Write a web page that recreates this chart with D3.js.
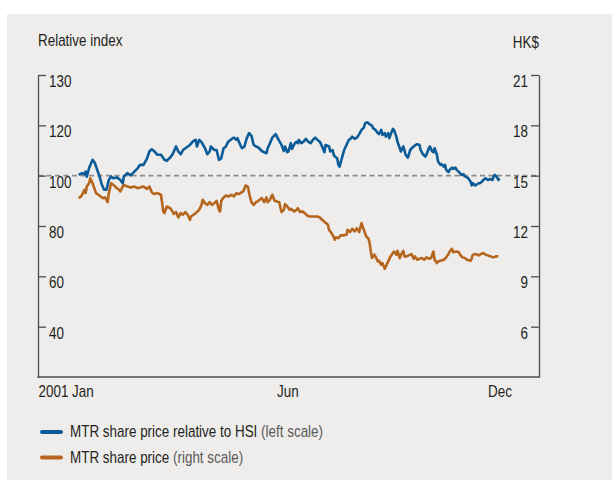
<!DOCTYPE html>
<html lang="en">
<head>
    <meta charset="UTF-8">
    <title>MTR share price</title>
    <script src="https://d3js.org/d3.v7.min.js"></script>
    <style>
        body {
            margin: 0;
            background: #fff;
        }

        svg text {
            font-family: "Liberation Sans", Arial, sans-serif;
            font-size: 16px;
            fill: #231f20;
        }

        .axis path, .axis line {
            stroke: #4d4d4d;
            stroke-width: 1.3;
        }
    </style>
</head>
<body>
    <svg width="612" height="480" id="svg"></svg>

    <script>
        // days counted from 1 Jan 2001
        const relDay = [1, 4, 6, 7, 8, 10, 13, 15, 17, 19, 21, 23, 25, 27, 29, 31, 34, 37, 39, 40, 43, 46, 49, 52, 54, 57, 60, 62, 64, 66,
            69, 72, 75, 77, 80, 82, 85, 87, 89, 91, 94, 97, 100, 102, 103, 105, 107, 110, 112, 114, 115, 118, 120, 122, 124, 126, 128, 130, 133, 135, 137, 138, 141,
            142, 144, 146, 148, 150, 152, 154, 156, 159, 161, 163, 164, 166, 168, 171, 172, 174, 176, 178, 179, 181, 182, 184, 185, 187, 189, 190, 191, 193, 195, 197, 199, 201, 203, 205, 207, 209, 211, 213,
            214, 217, 218, 220, 221, 222, 224, 225, 226, 228, 230, 232, 234, 236, 237, 239, 241, 243, 245, 247, 248, 250, 252, 254, 255, 257, 259, 260, 262, 263, 265, 266, 268, 269, 270, 272, 273, 275, 276, 278, 279, 281, 282, 283, 285,
            287, 289, 291, 293, 295, 296, 298, 300, 301, 303, 304, 306, 307, 308, 310, 311, 313, 314, 316, 317, 318, 320, 321, 323, 324, 326, 327, 328, 330, 331, 333, 334, 336, 337, 339, 340, 341, 343, 344, 346, 347, 349, 350, 352, 354, 356, 358, 359, 360, 362, 363, 364];
        const relIndex = [100.3, 101.0, 100.6, 101.6, 99.6, 103.0, 106.3, 105.0, 102.3, 99.7, 96.4, 94.4, 94.4, 98.3, 99.7, 99.0, 99.3, 98.3, 97.0, 99.7, 101.0, 100.1, 101.6, 103.0, 104.3, 104.3, 106.9, 109.6, 110.5, 109.8,
            108.3, 108.3, 106.3, 105.9, 107.2, 108.5, 111.6, 109.6, 108.5, 110.2, 111.2, 112.2, 113.8, 114.2, 111.6, 114.2, 113.3, 110.9, 108.5, 109.6, 111.6, 110.2, 110.2, 106.3, 106.9, 110.9, 111.6, 113.5, 114.6, 115.1, 114.2, 114.9, 111.6,
            110.9, 111.6, 114.9, 116.9, 115.9, 112.2, 111.6, 111.2, 109.8, 109.3, 108.9, 110.9, 112.9, 115.1, 116.5, 115.5, 113.8, 112.2, 109.8, 111.6, 109.3, 109.6, 112.9, 110.6, 112.5, 113.5, 112.9, 114.2, 112.9, 113.5, 114.6, 113.5, 112.9, 114.2, 115.1, 114.2, 113.5, 111.6, 109.3,
            112.2, 111.6, 109.6, 110.2, 108.3, 107.6, 106.9, 104.3, 103.6, 106.9, 110.2, 112.2, 114.2, 114.9, 115.5, 114.6, 115.1, 116.5, 118.2, 119.1, 120.8, 121.2, 120.4, 119.9, 118.8, 118.2, 116.9, 116.5, 118.2, 116.2, 116.9, 115.5, 116.9, 114.9, 116.2, 118.6, 118.2, 115.5, 113.5, 110.9, 109.6, 111.6, 110.2, 108.3, 107.2,
            110.2, 111.2, 112.0, 112.5, 112.2, 110.2, 108.5, 107.6, 108.3, 110.9, 111.6, 109.6, 109.3, 110.9, 108.3, 105.6, 104.3, 104.6, 103.6, 104.3, 102.3, 101.4, 102.3, 103.2, 102.7, 103.2, 102.3, 101.9, 101.0, 100.3, 100.6, 99.7, 99.3, 99.0, 97.7, 96.1, 97.0, 96.1, 96.4, 97.0, 97.0, 97.7, 98.3, 99.0, 98.3, 98.7, 98.3, 99.7, 100.3, 99.3, 98.3, 99.0];

        const priceDay = [1, 3, 4, 6, 7, 8, 10, 11, 13, 14, 16, 18, 20, 22, 24, 26, 27, 29, 31, 34, 36, 37, 39, 40, 43, 46, 49, 52, 54, 57, 60, 62, 64, 66, 69,
            72, 74, 75, 77, 80, 82, 83, 85, 87, 89, 91, 93, 95, 97, 98, 100, 102, 105, 107, 108, 110, 112, 114, 116, 118, 120, 122, 123, 124, 126, 128, 130, 133, 135, 137, 139,
            143, 145, 147, 148, 150, 152, 154, 156, 159, 161, 163, 164, 166, 168, 170, 172, 174, 175, 176, 178, 179, 181, 183, 184, 187, 189, 190, 192, 194, 196, 198, 200, 202, 205, 207, 209, 210, 212,
            216, 217, 219, 220, 222, 223, 225, 227, 229, 232, 233, 235, 237, 239, 241, 243, 244, 245, 247, 249, 251, 252, 253, 254, 256, 257, 259, 260, 262, 263, 265, 266, 268, 270, 271, 273, 275, 276, 278, 279, 281, 282, 284,
            287, 288, 290, 291, 293, 295, 297, 299, 301, 303, 305, 306, 307, 308, 310, 311, 313, 316, 318, 320, 321, 323, 324, 327, 329, 330, 332, 334, 336, 339, 340, 341, 344, 346, 348, 350, 352, 354, 356, 359, 361, 363];
        const price = [13.66, 13.76, 13.86, 14.15, 13.96, 14.35, 14.55, 14.85, 14.55, 14.35, 13.96, 13.86, 13.76, 13.66, 13.70, 13.42, 13.96, 14.55, 14.45, 14.25, 14.15, 14.06, 14.35, 14.45, 14.35, 14.29, 14.35, 14.25, 14.29, 14.35, 14.21, 14.35, 14.02, 13.90, 13.96,
            13.86, 12.87, 12.77, 13.16, 13.06, 12.87, 12.71, 12.83, 12.51, 12.77, 12.67, 12.83, 12.67, 12.37, 12.57, 12.67, 12.77, 12.97, 13.26, 13.56, 13.36, 13.26, 13.42, 13.26, 13.36, 13.50, 12.97, 12.87, 13.50, 13.70, 13.82, 13.76, 13.86, 13.76, 13.96, 13.90,
            14.06, 14.41, 14.35, 13.96, 13.42, 13.26, 13.42, 13.50, 13.66, 13.42, 13.70, 13.42, 13.56, 13.86, 13.50, 13.46, 13.42, 13.10, 12.83, 12.97, 13.30, 13.16, 12.97, 13.02, 12.87, 12.97, 13.06, 12.83, 12.87, 12.77, 12.63, 12.57, 12.57, 12.57, 12.57, 12.51, 12.43, 12.31,
            12.07, 11.77, 11.58, 11.48, 11.18, 11.32, 11.28, 11.44, 11.44, 11.48, 11.77, 11.64, 11.83, 11.68, 11.87, 11.64, 11.91, 12.17, 11.77, 11.38, 11.24, 10.98, 10.48, 10.09, 10.29, 10.19, 9.89, 9.93, 9.69, 9.79, 9.45, 9.59, 9.89, 10.19, 10.29, 10.48, 10.29, 10.52, 10.09, 10.29, 10.52, 10.19, 10.19,
            10.29, 10.33, 10.05, 10.19, 9.99, 10.05, 10.09, 9.99, 10.13, 10.05, 10.09, 10.29, 10.48, 9.99, 9.79, 9.89, 9.93, 9.99, 10.13, 10.33, 10.48, 10.64, 10.44, 10.48, 10.44, 10.29, 10.13, 10.09, 9.99, 9.93, 10.05, 10.29, 10.33, 10.25, 10.33, 10.39, 10.29, 10.25, 10.19, 10.13, 10.19, 10.19];

        // left axis ticks sit where the right axis has 21, 18, 15 ... (the top label reads 130 in the source)
        const leftTickValues = [140, 120, 100, 80, 60, 40];
        const leftTickLabels = ["130", "120", "100", "80", "60", "40"];
        const rightTickValues = [21, 18, 15, 12, 9, 6];
        const xTickDates = ["2001-01-01", "2001-07-01", "2001-12-31"];
        const xTickLabels = ["2001 Jan", "Jun", "Dec"];
        const seriesNames = ["MTR share price relative to HSI", "MTR share price"];
        const seriesNotes = ["(left scale)", "(right scale)"];

        const blue = "#0b5b98";
        const orange = "#b5651d";

        const svg = d3.select("#svg");
        const plot = { left: 38, right: 539, top: 75, bottom: 377 };

        svg.append("rect")
            .attr("x", 7).attr("y", 14)
            .attr("width", 605).attr("height", 466)
            .attr("fill", "#eeedeb");

        const toDate = d => new Date(2001, 0, 1 + d);

        const x = d3.scaleTime()
            .domain([new Date(2001, 0, 1), new Date(2001, 11, 31)])
            .range([77.5, 499.5]);
        const yLeft = d3.scaleLinear().domain([20, 140]).range([plot.bottom, plot.top]);
        const yRight = d3.scaleLinear().domain([3, 21]).range([plot.bottom, plot.top]);

        // reference line at 100
        svg.append("line")
            .attr("x1", plot.left).attr("x2", plot.right)
            .attr("y1", yLeft(100)).attr("y2", yLeft(100))
            .attr("stroke", "#8c8c8c")
            .attr("stroke-width", 1.6)
            .attr("stroke-dasharray", "5,3.5");

        // axes
        const leftAxis = svg.append("g")
            .attr("class", "axis")
            .attr("transform", `translate(${plot.left},0)`)
            .call(d3.axisRight(yLeft)
                .tickValues(leftTickValues)
                .tickFormat((d, i) => leftTickLabels[i])
                .tickSize(8).tickSizeOuter(0).tickPadding(3));

        const rightAxis = svg.append("g")
            .attr("class", "axis")
            .attr("transform", `translate(${plot.right},0)`)
            .call(d3.axisLeft(yRight)
                .tickValues(rightTickValues)
                .tickSize(8).tickSizeOuter(0).tickPadding(3));

        [leftAxis, rightAxis].forEach(g => {
            g.selectAll("text").attr("dy", "0.72em").attr("font-family", null).attr("font-size", null);
        });

        svg.append("line")
            .attr("x1", plot.left - 0.65).attr("x2", plot.right + 0.65)
            .attr("y1", plot.bottom).attr("y2", plot.bottom)
            .attr("stroke", "#4d4d4d").attr("stroke-width", 1.3);

        const xAxis = svg.append("g")
            .attr("transform", `translate(0,${plot.bottom})`)
            .call(d3.axisBottom(x)
                .tickValues(xTickDates.map(d3.timeParse("%Y-%m-%d")))
                .tickFormat((d, i) => xTickLabels[i])
                .tickSize(0).tickPadding(8));
        xAxis.select(".domain").remove();
        xAxis.selectAll("text")
            .attr("font-family", null).attr("font-size", null)
            .attr("dy", "0.72em");
        xAxis.select(".tick text")
            .attr("text-anchor", "start")
            .attr("x", plot.left - x(d3.timeParse("%Y-%m-%d")(xTickDates[0])));

        // axis titles
        svg.append("text").attr("x", 38).attr("y", 46).text("Relative index");
        svg.append("text").attr("x", plot.right).attr("y", 48)
            .attr("text-anchor", "end").text("HK$");

        // lines
        const relData = relDay.map((d, i) => ({ date: toDate(d), value: relIndex[i] }));
        const priceData = priceDay.map((d, i) => ({ date: toDate(d), value: price[i] }));

        svg.append("path")
            .datum(priceData)
            .attr("fill", "none")
            .attr("stroke", orange)
            .attr("stroke-width", 2.6)
            .attr("stroke-linejoin", "round")
            .attr("d", d3.line().x(d => x(d.date)).y(d => yRight(d.value)));

        svg.append("path")
            .datum(relData)
            .attr("fill", "none")
            .attr("stroke", blue)
            .attr("stroke-width", 2.6)
            .attr("stroke-linejoin", "round")
            .attr("d", d3.line().x(d => x(d.date)).y(d => yLeft(d.value)));

        // legend
        const legend = svg.append("g").attr("transform", "translate(41,432)");
        [blue, orange].forEach((c, i) => {
            const row = legend.append("g").attr("transform", `translate(0,${i * 25.5})`);
            row.append("line")
                .attr("x1", 1).attr("x2", 20)
                .attr("stroke", c).attr("stroke-width", 4)
                .attr("stroke-linecap", "round");
            const t = row.append("text").attr("x", 29).attr("y", 5);
            t.append("tspan").text(seriesNames[i] + " ");
            t.append("tspan").style("fill", "#5a5a5a").text(seriesNotes[i]);
        });

        // the source uses a condensed face; squeeze the text horizontally around its anchor
        svg.selectAll("text").each(function () {
            const t = d3.select(this);
            const ax = +t.attr("x") || 0;
            t.attr("transform", `translate(${ax},0) scale(0.84,1) translate(${-ax},0)`);
        });
    </script>
</body>
</html>
